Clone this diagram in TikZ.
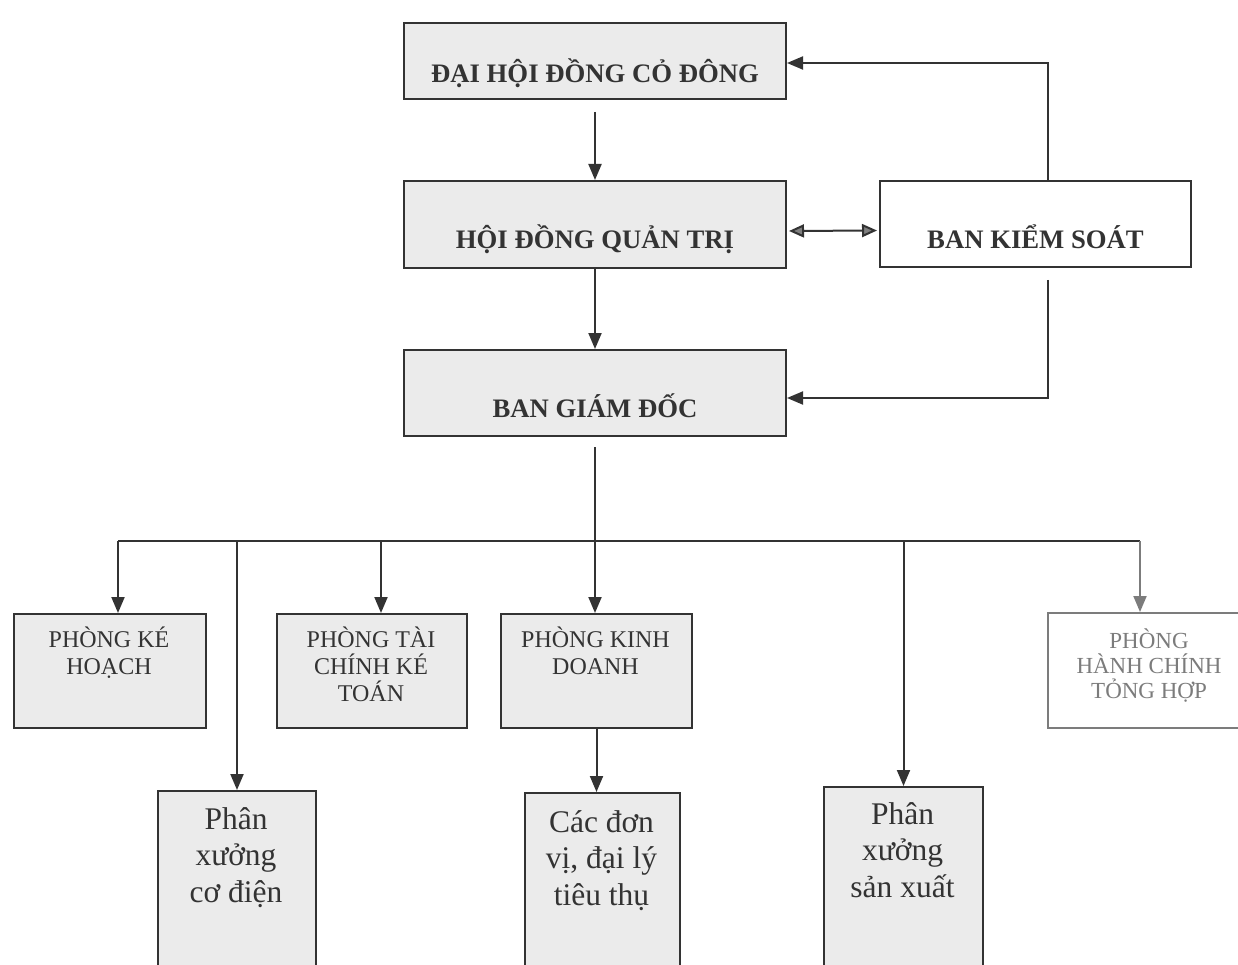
\documentclass[tikz,border=0pt]{standalone}
\usepackage{fontspec}
\setmainfont{Liberation Serif}
\usetikzlibrary{arrows.meta}
\definecolor{ink}{HTML}{333333}
\definecolor{boxfill}{HTML}{EBEBEB}
\definecolor{pale}{HTML}{7C7C7C}
\begin{document}
\begin{tikzpicture}[x=1pt,y=-1pt,
  box/.style={draw=ink, line width=2pt, fill=boxfill, inner sep=0pt, anchor=north west, text=ink},
  wbox/.style={box, fill=white},
  pbox/.style={box, draw=pale, fill=white, line width=1.5pt},
  big/.style={font=\bfseries\fontsize{26.7}{30}\selectfont},
  mid/.style={inner sep=0pt, anchor=north, align=center, text=ink, font=\fontsize{24}{27}\selectfont},
  large/.style={inner sep=0pt, anchor=north, align=center, text=ink, font=\fontsize{31.5}{36.5}\selectfont},
  conn/.style={draw=ink, line width=2pt},
  arr/.style={conn, -{Triangle[length=16pt,width=13pt]}},
  darr/.style={conn, {Triangle[length=15pt,width=13pt,fill=gray]}-{Triangle[length=15pt,width=13pt,fill=gray]}}
]
\path[use as bounding box] (0,0) rectangle (1238,965);
\clip (0,0) rectangle (1238,965);

% top level
\node[box, big, minimum width=382pt, text height=60pt, text depth=16pt] (dh) at (403,22) {ĐẠI HỘI ĐỒNG CỎ ĐÔNG};
\node[box, big, minimum width=382pt, text height=68pt, text depth=19pt] (hd) at (403,180) {HỘI ĐỒNG QUẢN TRỊ};
\node[wbox, big, minimum width=311pt, text height=68pt, text depth=18pt] (bks) at (879,180) {BAN KIỂM SOÁT};
\node[box, big, minimum width=382pt, text height=67pt, text depth=19pt] (bgd) at (403,349) {BAN GIÁM ĐỐC};

% departments
\node[box, minimum width=192pt, minimum height=114pt] (pkh) at (13,613) {};
\node[mid] (pkhT) at (109,622) {\rule{0pt}{25pt}PHÒNG KÉ\\HOẠCH};
\node[box, minimum width=190pt, minimum height=114pt] (ptc) at (276,613) {};
\node[mid] (ptcT) at (371,622) {\rule{0pt}{25pt}PHÒNG TÀI\\CHÍNH KÉ\\TOÁN};
\node[box, minimum width=191pt, minimum height=114pt] (pkd) at (500,613) {};
\node[mid] (pkdT) at (595.5,622) {\rule{0pt}{25pt}PHÒNG KINH\\DOANH};
\node[pbox, minimum width=203pt, minimum height=115pt] (phc) at (1047,612) {};
\node[mid, text=pale, font=\fontsize{23}{25}\selectfont] (phcT) at (1149,624) {\rule{0pt}{24pt}PHÒNG\\HÀNH CHÍNH\\TỎNG HỢP};

% workshops
\node[box, minimum width=158pt, minimum height=200pt] (cd) at (157,790) {};
\node[large] (cdT) at (236,797) {\rule{0pt}{32pt}Phân\\xưởng\\cơ điện};
\node[box, minimum width=155pt, minimum height=200pt] (cdv) at (524,792) {};
\node[large] (cdvT) at (601.5,800) {\rule{0pt}{32pt}Các đơn\\vị, đại lý\\tiêu thụ};
\node[box, minimum width=159pt, minimum height=200pt] (sx) at (823,786) {};
\node[large] (sxT) at (902.5,792) {\rule{0pt}{32pt}Phân\\xưởng\\sản xuất};

% connectors top
\draw[arr] ([yshift=-12pt]dh.south) -- (hd.north);
\draw[arr] (hd.south) -- (bgd.north);
\draw[darr, shorten <=2pt, shorten >=2pt] ([yshift=-6.5pt]hd.east) -- ([yshift=-6.5pt]bks.west);
\draw[arr] ([xshift=12.5pt]bks.north) |- ([yshift=-2pt]dh.east);
\draw[arr] ([xshift=12.5pt,yshift=-12pt]bks.south) |- ([yshift=-5pt]bgd.east);

% bus
\coordinate (busL) at (118,541);
\coordinate (busR) at (1140,541);
\draw[conn] (busL) -- (busR);
\draw[arr] ([yshift=-10pt]bgd.south) -- (bgd.south |- pkd.north);
\draw[arr] (busL) -- (busL |- pkh.north);
\draw[arr] (cd.north |- busL) -- (cd.north);
\draw[arr] ([xshift=9pt]ptc.north |- busL) -- ([xshift=9pt]ptc.north);
\draw[arr] (sx.north |- busL) -- (sx.north);
\draw[arr, draw=pale] (busR) -- (busR |- phc.north);
\draw[arr] (pkd.south) -- (pkd.south |- cdv.north);
\end{tikzpicture}
\end{document}
